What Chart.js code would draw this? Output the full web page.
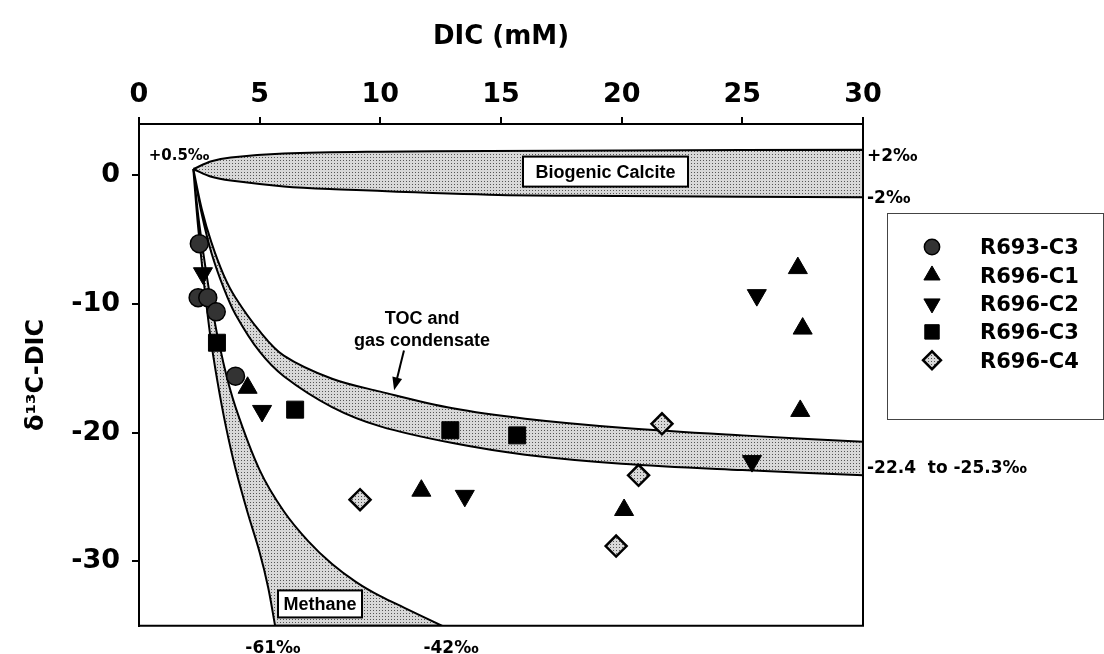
<!DOCTYPE html>
<html>
<head>
<meta charset="utf-8">
<script src="https://cdn.jsdelivr.net/npm/chart.js@4.4.0/dist/chart.umd.min.js"></script>
<style>
  html, body { margin: 0; padding: 0; background: #fff; }
  #wrap { width: 1104px; height: 654px; }
</style>
</head>
<body>
<div id="wrap"><canvas id="dicChart" width="1104" height="654"></canvas></div>
<script>
// axis ticks
const xTicks = [0, 5, 10, 15, 20, 25, 30];
const yTicks = [0, -10, -20, -30];

// measured samples (DIC mM, d13C-DIC)
const seriesNames = ["R693-C3", "R696-C1", "R696-C2", "R696-C3", "R696-C4"];
const r693c3X = [2.5, 2.45, 2.85, 3.2, 4.0];
const r693c3Y = [-5.3, -9.5, -9.5, -10.6, -15.6];
const r696c1X = [4.5, 11.7, 20.1, 27.3, 27.5, 27.4];
const r696c1Y = [-16.5, -24.5, -26.0, -7.2, -11.9, -18.3];
const r696c2X = [2.65, 5.1, 13.5, 25.6, 25.4];
const r696c2Y = [-7.6, -18.3, -24.9, -9.3, -22.2];
const r696c3X = [3.23, 6.47, 12.9, 15.67];
const r696c3Y = [-13.0, -18.2, -19.8, -20.2];
const r696c4X = [9.16, 21.67, 20.7, 19.77];
const r696c4Y = [-25.2, -19.3, -23.3, -28.8];

// mixing envelopes
const calciteTopX = [2.25, 3.0, 3.8, 6.0, 10.0, 14.5, 20.0, 30.0];
const calciteTopY = [0.5, 1.1, 1.4, 1.7, 1.85, 1.9, 1.95, 2.0];
const calciteBotX = [2.25, 3.0, 3.8, 6.0, 7.9, 14.5, 20.0, 30.0];
const calciteBotY = [0.5, -0.1, -0.4, -0.85, -1.05, -1.5, -1.6, -1.7];

const tocX = [2.25, 2.6, 3.0, 3.5, 4.0, 5.0, 6.0, 8.0, 10.0, 13.0, 16.0, 20.0, 25.0, 30.0];
const tocTopY = [0.5, -2.6, -5.2, -7.7, -9.5, -12.1, -14.0, -15.8, -16.8, -18.1, -18.9, -19.6, -20.2, -20.7];
const tocBotY = [0.5, -3.0, -6.0, -8.7, -10.8, -13.7, -15.6, -18.0, -19.5, -20.8, -21.7, -22.4, -22.9, -23.3];

const methLeftX = [2.25, 2.45, 2.7, 2.95, 3.25, 3.6, 4.0, 4.5, 5.0, 5.35, 5.64];
const methLeftY = [0.5, -4.0, -8.5, -12.4, -16.0, -19.5, -22.8, -26.2, -29.3, -32.0, -35.0];
const methRightX = [2.25, 2.5, 3.0, 3.5, 4.0, 5.0, 6.0, 7.0, 8.0, 9.0, 10.0, 11.0, 12.56];
const methRightY = [0.5, -3.8, -10.0, -14.6, -18.0, -22.9, -26.1, -28.4, -30.2, -31.6, -32.7, -33.6, -35.0];

function pts(xs, ys) {
  return xs.map((x, i) => ({ x: x, y: ys[i] }));
}

// closed outline: one edge out, the other edge back.
// the corner points are repeated so the smoothing keeps them sharp
function outline(xa, ya, xb, yb) {
  const out = pts(xa, ya);
  const back = pts(xb, yb).reverse();
  return out.concat([out[out.length - 1], back[0]], back);
}

// dotted grey fill like the printed screen
function makeStipple() {
  const c = document.createElement("canvas");
  c.width = 3;
  c.height = 3;
  const g = c.getContext("2d");
  g.fillStyle = "#d8d8d8";
  g.fillRect(0, 0, 3, 3);
  g.fillStyle = "#555";
  g.fillRect(1, 1, 1, 1);
  return g.createPattern(c, "repeat");
}
const stipple = makeStipple();

function bandDataset(data) {
  return {
    data: data,
    showLine: true,
    pointRadius: 0,
    borderColor: "#000",
    borderWidth: 2,
    backgroundColor: stipple,
    fill: "shape",
    tension: 0.35,
    order: 2
  };
}

const markerStyles = [
  { pointStyle: "circle", radius: 9, rotation: 0, fill: "#333", border: 1.5 },
  { pointStyle: "triangle", radius: 11, rotation: 0, fill: "#000", border: 1 },
  { pointStyle: "triangle", radius: 11, rotation: 180, fill: "#000", border: 1 },
  { pointStyle: "rect", radius: 12, rotation: 0, fill: "#000", border: 1 },
  { pointStyle: "rectRot", radius: 10.5, rotation: 0, fill: stipple, border: 2.5 }
];

function sampleDataset(i, data) {
  const m = markerStyles[i];
  return {
    label: seriesNames[i],
    data: data,
    showLine: false,
    pointStyle: m.pointStyle,
    pointRadius: m.radius,
    rotation: m.rotation,
    backgroundColor: m.fill,
    borderColor: "#000",
    borderWidth: m.border,
    order: 0
  };
}

const tickFont = { family: "DejaVu Sans", size: 27, weight: "bold" };
const titleFont = { family: "DejaVu Sans", size: 26, weight: "bold" };

// text labels on the plot, anchored in data units
const annotations = [
  { text: "+0.5‰", x: 1.66, y: 1.55, font: "bold 15px 'DejaVu Sans'" },
  { text: "TOC and", x: 11.73, y: -11.1, font: "bold 18px 'Liberation Sans'" },
  { text: "gas condensate", x: 11.73, y: -12.8, font: "bold 18px 'Liberation Sans'" }
];
const boxedLabels = [
  { text: "Biogenic Calcite", x: 19.33, y: 0.3, w: 165, h: 30, font: "bold 18px 'Liberation Sans'" },
  { text: "Methane", x: 7.5, y: -33.3, w: 84, h: 27, font: "bold 18px 'Liberation Sans'" }
];
const rightLabels = [
  { text: "+2‰", y: 1.7 },
  { text: "-2‰", y: -1.55 },
  { text: "-22.4  to -25.3‰", y: -22.56 }
];
const bottomLabels = [
  { text: "-61‰", x: 5.55 },
  { text: "-42‰", x: 12.93 }
];
const arrowFrom = { x: 10.98, y: -13.6 };
const arrowTo = { x: 10.57, y: -16.7 };

const decorPlugin = {
  id: "decor",
  afterDraw(chart) {
    const ctx = chart.ctx;
    const xs = chart.scales.x;
    const ys = chart.scales.y;
    const area = chart.chartArea;
    ctx.save();

    // right and bottom frame
    ctx.strokeStyle = "#000";
    ctx.lineWidth = 2;
    ctx.beginPath();
    ctx.moveTo(area.right, area.top - 1);
    ctx.lineTo(area.right, area.bottom);
    ctx.lineTo(area.left - 1, area.bottom);
    ctx.stroke();

    ctx.fillStyle = "#000";
    ctx.textAlign = "center";
    ctx.textBaseline = "middle";
    annotations.forEach(a => {
      ctx.font = a.font;
      ctx.fillText(a.text, xs.getPixelForValue(a.x), ys.getPixelForValue(a.y) + 1);
    });

    boxedLabels.forEach(b => {
      const cx = xs.getPixelForValue(b.x);
      const cy = ys.getPixelForValue(b.y);
      ctx.fillStyle = "#fff";
      ctx.fillRect(cx - b.w / 2, cy - b.h / 2, b.w, b.h);
      ctx.strokeStyle = "#000";
      ctx.lineWidth = 2;
      ctx.strokeRect(cx - b.w / 2, cy - b.h / 2, b.w, b.h);
      ctx.fillStyle = "#000";
      ctx.font = b.font;
      ctx.fillText(b.text, cx, cy + 1);
    });

    ctx.font = "bold 17px 'DejaVu Sans'";
    ctx.textAlign = "left";
    rightLabels.forEach(r => {
      ctx.fillText(r.text, area.right + 4, ys.getPixelForValue(r.y) + 3);
    });
    ctx.textAlign = "center";
    bottomLabels.forEach(b => {
      ctx.fillText(b.text, xs.getPixelForValue(b.x), area.bottom + 23);
    });

    // arrow to the TOC band
    const x1 = xs.getPixelForValue(arrowFrom.x), y1 = ys.getPixelForValue(arrowFrom.y);
    const x2 = xs.getPixelForValue(arrowTo.x), y2 = ys.getPixelForValue(arrowTo.y);
    const ang = Math.atan2(y2 - y1, x2 - x1);
    ctx.strokeStyle = "#000";
    ctx.lineWidth = 2;
    ctx.beginPath();
    ctx.moveTo(x1, y1);
    ctx.lineTo(x2 - 8 * Math.cos(ang), y2 - 8 * Math.sin(ang));
    ctx.stroke();
    ctx.beginPath();
    ctx.moveTo(x2, y2);
    ctx.lineTo(x2 - 13 * Math.cos(ang) + 5 * Math.sin(ang), y2 - 13 * Math.sin(ang) - 5 * Math.cos(ang));
    ctx.lineTo(x2 - 13 * Math.cos(ang) - 5 * Math.sin(ang), y2 - 13 * Math.sin(ang) + 5 * Math.cos(ang));
    ctx.closePath();
    ctx.fill();

    // legend box
    const lx = 887, ly = 213, lw = 216, lh = 206;
    ctx.strokeStyle = "#444";
    ctx.lineWidth = 1;
    ctx.strokeRect(lx + 0.5, ly + 0.5, lw, lh);
    ctx.font = "bold 21px 'DejaVu Sans'";
    ctx.textAlign = "left";
    seriesNames.forEach((name, i) => {
      const m = markerStyles[i];
      const rowY = 247 + i * 28.3;
      ctx.fillStyle = m.fill;
      ctx.strokeStyle = "#000";
      ctx.lineWidth = m.border;
      Chart.helpers.drawPoint(ctx, {
        pointStyle: m.pointStyle,
        radius: m.radius * 0.85,
        rotation: m.rotation,
        borderWidth: m.border
      }, 932, rowY);
      ctx.fillStyle = "#000";
      ctx.fillText(name, 980, rowY + 2);
    });
    ctx.restore();
  }
};

new Chart(document.getElementById("dicChart"), {
  type: "scatter",
  data: {
    datasets: [
      sampleDataset(0, pts(r693c3X, r693c3Y)),
      sampleDataset(1, pts(r696c1X, r696c1Y)),
      sampleDataset(2, pts(r696c2X, r696c2Y)),
      sampleDataset(3, pts(r696c3X, r696c3Y)),
      sampleDataset(4, pts(r696c4X, r696c4Y)),
      bandDataset(outline(calciteTopX, calciteTopY, calciteBotX, calciteBotY)),
      bandDataset(outline(tocX, tocTopY, tocX, tocBotY)),
      bandDataset(outline(methLeftX, methLeftY, methRightX, methRightY))
    ]
  },
  options: {
    responsive: false,
    devicePixelRatio: 1,
    animation: false,
    events: [],
    layout: { padding: { left: 0, top: 0, right: 241, bottom: 26 } },
    plugins: {
      legend: { display: false },
      tooltip: { enabled: false }
    },
    scales: {
      x: {
        type: "linear",
        position: "top",
        min: 0,
        max: 30,
        afterBuildTicks: s => { s.ticks = xTicks.map(v => ({ value: v })); },
        afterFit: s => { s.height = 124; },
        grid: { drawOnChartArea: false, drawTicks: true, tickLength: 7, color: "#000", lineWidth: 2 },
        border: { color: "#000", width: 2 },
        ticks: { color: "#000", font: tickFont, padding: 6, maxRotation: 0 },
        title: { display: true, text: "DIC (mM)", color: "#000", font: titleFont, padding: { top: 22, bottom: 0 } }
      },
      y: {
        type: "linear",
        position: "left",
        min: -35,
        max: 4,
        afterBuildTicks: s => { s.ticks = yTicks.map(v => ({ value: v })); },
        afterFit: s => { s.width = 139; },
        grid: { drawOnChartArea: false, drawTicks: true, tickLength: 7, color: "#000", lineWidth: 2 },
        border: { color: "#000", width: 2 },
        ticks: { color: "#000", font: tickFont, padding: 12 },
        title: { display: true, text: "δ¹³C-DIC", color: "#000", font: { family: "DejaVu Sans", size: 24, weight: "bold" }, padding: { top: 22, bottom: 0 } }
      }
    }
  },
  plugins: [decorPlugin]
});
</script>
</body>
</html>
